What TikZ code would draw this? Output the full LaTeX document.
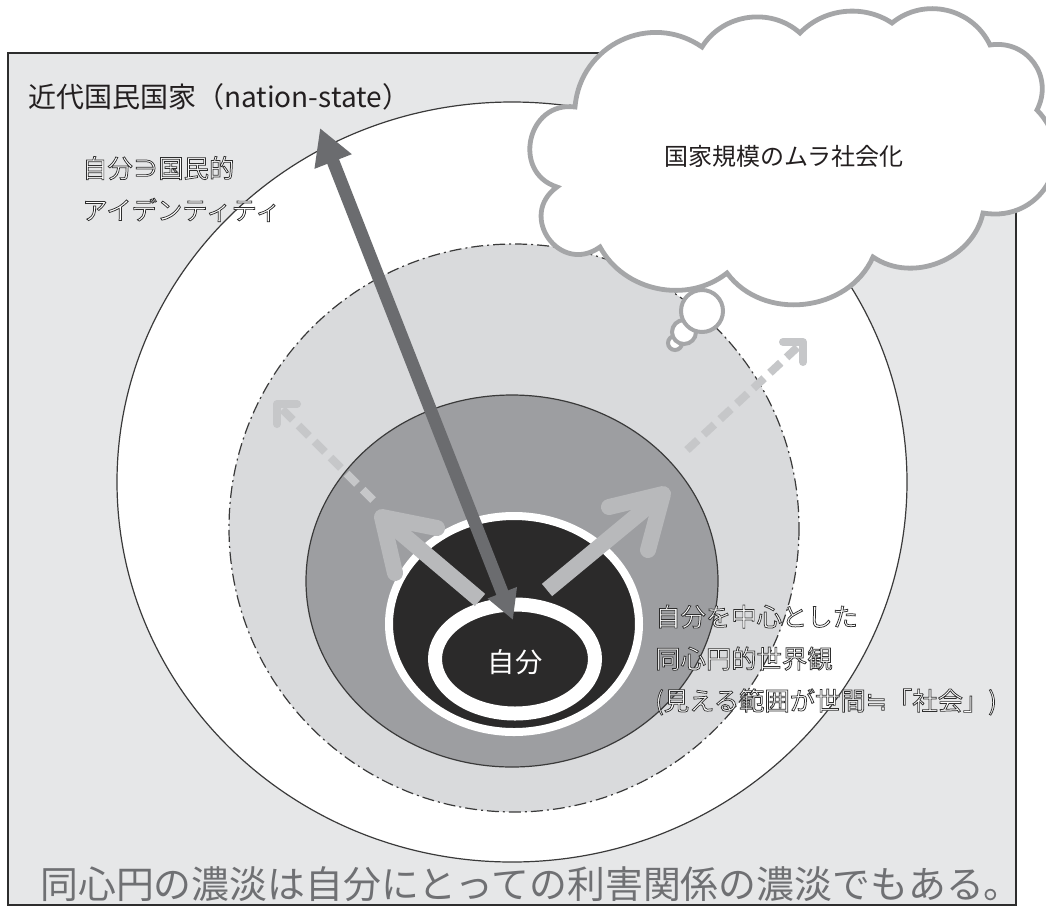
\documentclass[tikz,border=0pt]{standalone}
\usepackage{fontspec}
\setmainfont{Noto Sans CJK JP}
\newfontfamily\symfont{DejaVu Sans}
\usetikzlibrary{arrows.meta}
\definecolor{framefill}{HTML}{E6E7E8}
\definecolor{framedraw}{HTML}{2D2D2D}
\definecolor{ringline}{HTML}{3A3A3A}
\definecolor{dashfill}{HTML}{D9DADC}
\definecolor{midfill}{HTML}{9D9EA1}
\definecolor{corefill}{HTML}{2B2A2A}
\definecolor{darkarrow}{HTML}{6B6C6F}
\definecolor{lightarrow}{HTML}{B8B9BB}
\definecolor{dasharrow}{HTML}{C6C7C9}
\definecolor{cloudline}{HTML}{A5A6A8}
\definecolor{bottomtext}{HTML}{6F7073}
\definecolor{titletext}{HTML}{231F20}
\newcommand{\outlinetext}[1]{{\color{white}\special{pdf:literal direct 0.18 0.18 0.18 RG 0.55 w 2 Tr}#1\special{pdf:literal direct 0 Tr}}}
\begin{document}
\begin{tikzpicture}[x=0.75pt,y=-0.75pt,
  thinline/.style={draw=ringline,line width=0.9pt},
  lightshaft/.style={draw=lightarrow,line width=12pt},
  lighthead/.style={draw=lightarrow,line width=12pt,line cap=round,line join=round},
  dashshaft/.style={draw=dasharrow,line width=6pt,dash pattern=on 11pt off 6pt},
  dashhead/.style={draw=dasharrow,line width=6pt,line cap=round,line join=round},
  cloudstroke/.style={draw=cloudline,fill=white,line width=3.6pt},
  bubble/.style={draw=cloudline,fill=white,line width=3pt},
  labeltext/.style={inner sep=0pt,align=left,font=\fontsize{19}{31.5}\selectfont},
]
\useasboundingbox (0,0) rectangle (1046,908);
\fill[white] (0,0) rectangle (1046,908);
% frame
\draw[fill=framefill,draw=framedraw,line width=2.2pt] (8,53) rectangle (1016,905);
% concentric regions
\draw[fill=white,thinline] (512,482) ellipse [x radius=395,y radius=380];
\draw[fill=dashfill,thinline,dash pattern=on 9pt off 3pt on 1.5pt off 3pt] (514,528) ellipse [x radius=285,y radius=284];
\draw[fill=midfill,thinline] (512,581) ellipse [x radius=206,y radius=186];
\draw[fill=corefill,draw=white,line width=6pt] (514,624) ellipse [x radius=125,y radius=108];
\draw[draw=white,line width=10.5pt] (515,659) ellipse [x radius=80,y radius=54.5];
% coordinates
\coordinate (dlS) at (373,500);
\coordinate (dlT) at (277,404);
\coordinate (dlA) at (297,404);
\coordinate (dlB) at (277,424);
\coordinate (drS) at (687,450);
\coordinate (drT) at (803,342);
\coordinate (drA) at (783,342);
\coordinate (drB) at (803,362);
\coordinate (llS) at (480,600);
\coordinate (llT) at (382,517);
\coordinate (llA) at (437,528);
\coordinate (llB) at (395,573);
\coordinate (lrS) at (547,590);
\coordinate (lrT) at (663,494);
\coordinate (lrA) at (609,507);
\coordinate (lrB) at (648,550);
\coordinate (daIn) at (513,620);
\coordinate (daOut) at (320,128);
% dashed arrows
\draw[dashshaft] (dlS) -- (dlT);
\draw[dashhead] (dlA) -- (dlT) -- (dlB);
\draw[dashshaft] (drS) -- (drT);
\draw[dashhead] (drA) -- (drT) -- (drB);
% light arrows
\draw[lightshaft] (llS) -- (llT);
\draw[lighthead] (llA) -- (llT) -- (llB);
\draw[lightshaft] (lrS) -- (lrT);
\draw[lighthead] (lrA) -- (lrT) -- (lrB);
% dark double arrow
\draw[draw=darkarrow,fill=darkarrow,line width=9.5pt,
  {Triangle[length=22pt,width=22pt]}-{Triangle[length=27pt,width=28pt]}] (daIn) -- (daOut);
% texts
\node[inner sep=0pt,text=white,font=\fontsize{20.5}{24}\selectfont] (self) at (515,662) {自分};
\node[inner sep=0pt,anchor=west,text=titletext,font=\fontsize{21}{25}\selectfont] (title) at (28,97) {近代国民国家（nation-state）};
\node[labeltext,anchor=west] (identity) at (82,189) {\outlinetext{自分∋国民的}\\\outlinetext{アイデンティティ}};
\node[labeltext,anchor=west] (worldview) at (655,660) {\outlinetext{自分を中心とした}\\\outlinetext{同心円的世界観}\\\outlinetext{(見える範囲が世間{\symfont ≒}「社会」)}};
\node[inner sep=0pt,anchor=west,text=bottomtext,font=\fontsize{28.4}{32}\selectfont] (summary) at (40,884) {同心円の濃淡は自分にとっての利害関係の濃淡でもある。};
% cloud
\draw[cloudstroke] (575,107)
  to[bend left=60,looseness=1.14] (702,47)
  to[bend left=50,looseness=1.02] (800,33)
  to[bend left=40,looseness=0.95] (892,23)
  to[bend left=52,looseness=1.05] (990,45)
  to[bend left=63,looseness=1.2] (1037,110)
  to[bend left=72,looseness=1.35] (983,213)
  to[bend left=56,looseness=1.03] (873,257)
  to[bend left=60,looseness=1.06] (727,273)
  to[bend left=50,looseness=1.0] (600,247)
  to[bend left=90,looseness=1.7] (557,187)
  to[bend left=85,looseness=1.5] (575,107) -- cycle;
\draw[bubble] (675,343) circle [radius=7];
\draw[bubble] (684,332) circle [radius=12];
\draw[bubble] (702,311) circle [radius=21];
\node[inner sep=0pt,text=titletext,font=\fontsize{18}{22}\selectfont] (cloudtext) at (784,156) {国家規模のムラ社会化};
\end{tikzpicture}
\end{document}
